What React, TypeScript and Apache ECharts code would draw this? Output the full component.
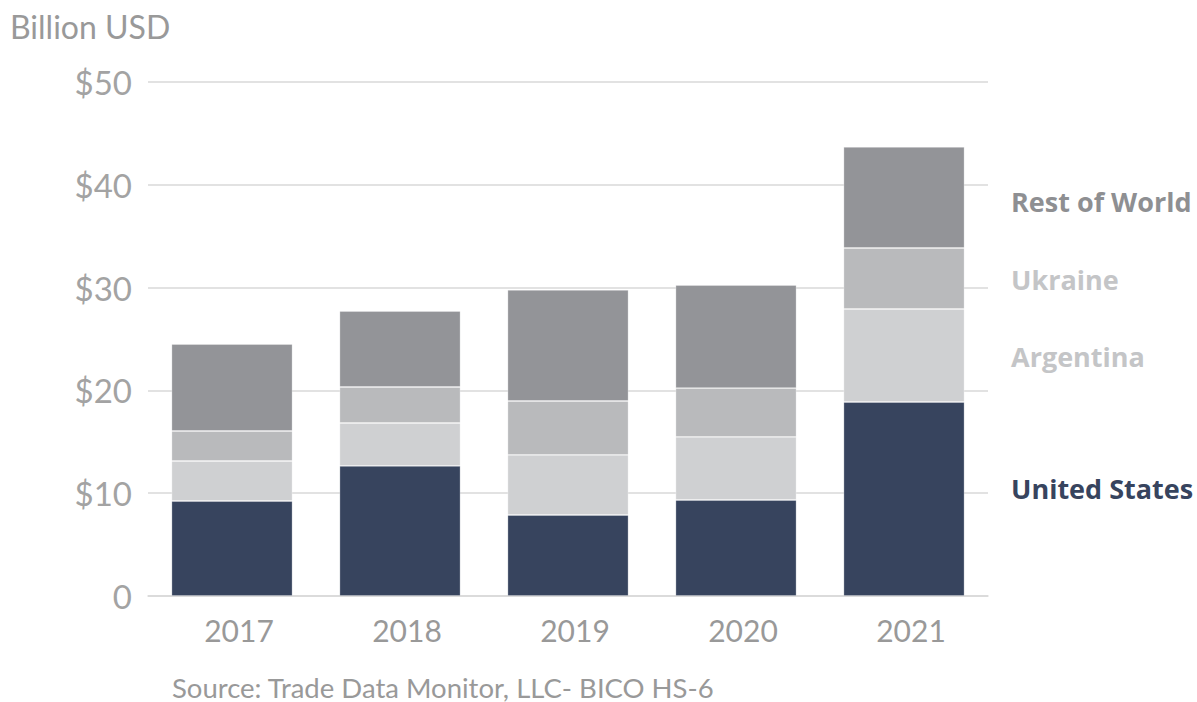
import React, { useEffect, useRef } from "react";
import * as echarts from "echarts";

const years = ["2017", "2018", "2019", "2020", "2021"];
const seriesNames = ["United States", "Argentina", "Ukraine", "Rest of World"];
const unitedStates = [9.24, 12.65, 7.88, 9.34, 18.87];
const argentina = [3.89, 4.18, 5.84, 6.13, 9.05];
const ukraine = [2.92, 3.5, 5.25, 4.76, 5.93];
const restOfWorld = [8.45, 7.39, 10.8, 10.02, 9.83];
const yTicks = [0, 10, 20, 30, 40, 50];

const barColors = ["#37445e", "#cfd0d2", "#b9babc", "#939498"];
const labelColors = ["#37445e", "#c4c5c7", "#c4c5c7", "#8e8f92"];
const labelY = [490, 358, 281, 203];

export default function App() {
  const ref = useRef<HTMLDivElement>(null);
  useEffect(() => {
    if (!ref.current) return;
    const chart = echarts.init(ref.current, undefined, { renderer: "svg" });
    const data = [unitedStates, argentina, ukraine, restOfWorld];
    chart.setOption({
      animation: false,
      backgroundColor: "#ffffff",
      grid: { left: 148, right: 1197 - 988, top: 82, bottom: 702 - 596 },
      xAxis: {
        type: "category",
        data: years,
        axisLine: { show: true, lineStyle: { color: "#d9d9d9", width: 1.5 } },
        axisTick: { show: false },
        axisLabel: {
          color: "#999999",
          fontFamily: "Lato",
          fontSize: 30,
          margin: 19,
          padding: [0, 0, 0, 14],
        },
      },
      yAxis: {
        type: "value",
        min: yTicks[0],
        max: yTicks[yTicks.length - 1],
        interval: 10,
        axisLine: { show: false },
        axisTick: { show: false },
        splitLine: { lineStyle: { color: "#d9d9d9", width: 1.5 } },
        axisLabel: {
          color: "#a3a3a3",
          fontFamily: "Lato",
          fontSize: 33,
          margin: 16,
          formatter: (v: number) => (v === 0 ? "0" : "$" + v),
        },
      },
      series: seriesNames.map((name, i) => ({
        name,
        type: "bar",
        stack: "total",
        barWidth: 121,
        data: data[i],
        itemStyle: { color: barColors[i], borderColor: "rgba(255,255,255,0.35)", borderWidth: 0.8 },
      })),
      graphic: [
        {
          type: "text",
          left: 10,
          top: 10,
          style: { text: "Billion USD", fill: "#999999", fontFamily: "Lato", fontSize: 32 },
        },
        {
          type: "text",
          left: 172,
          top: 673,
          style: {
            text: "Source: Trade Data Monitor, LLC- BICO HS-6",
            fill: "#999999",
            fontFamily: "Lato",
            fontSize: 27.5,
          },
        },
        ...seriesNames.map((name, i) => ({
          type: "text",
          left: 1011,
          top: labelY[i] - 15,
          style: {
            text: name,
            fill: labelColors[i],
            fontFamily: "Open Sans",
            fontWeight: "bold",
            fontSize: 27,
          },
        })),
      ],
    });
    return () => chart.dispose();
  }, []);
  return <div ref={ref} style={{ width: 1197, height: 702, position: "absolute", left: 0, top: 0 }} />;
}
